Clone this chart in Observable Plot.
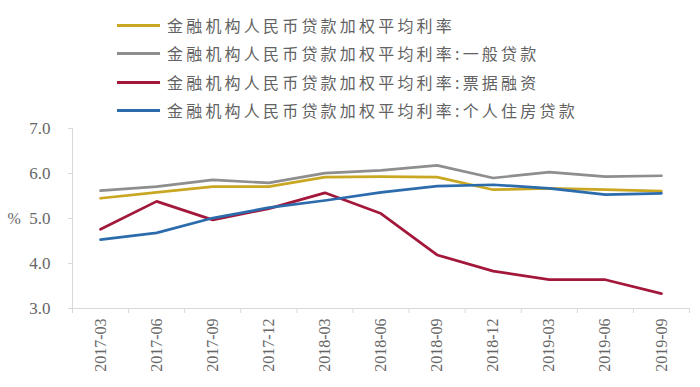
<!DOCTYPE html>
<html><head><meta charset="utf-8">
<script src="https://cdn.jsdelivr.net/npm/d3@7"></script>
<script src="https://cdn.jsdelivr.net/npm/@observablehq/plot@0.6"></script>
<style>
body{margin:0;background:#fff;}
#wrap{position:relative;width:700px;height:387px;overflow:hidden;background:#fff;}
#legend{position:relative;width:700px;height:120px;}
.row{position:absolute;left:117px;height:22px;display:flex;align-items:center;}
.sw{width:43px;height:3px;margin-right:7px;flex:none;}
.lab{font-size:16px;font-family:"Noto Sans CJK SC";color:#626262;letter-spacing:3.2px;white-space:nowrap;line-height:22px;}
#chart svg{display:block;}
</style></head><body>
<div id="wrap"><div id="legend"></div><div id="chart"></div></div>
<script>
const categories = ["2017-03","2017-06","2017-09","2017-12","2018-03","2018-06","2018-09","2018-12","2019-03","2019-06","2019-09"];
const seriesNames = [
  "金融机构人民币贷款加权平均利率",
  "金融机构人民币贷款加权平均利率:一般贷款",
  "金融机构人民币贷款加权平均利率:票据融资",
  "金融机构人民币贷款加权平均利率:个人住房贷款"
];
const colors = ["#c9a722", "#8e8e8e", "#a3173b", "#2c6cad"];
const avgRate      = [5.45, 5.58, 5.71, 5.71, 5.92, 5.93, 5.92, 5.64, 5.67, 5.64, 5.61];
const generalRate  = [5.62, 5.71, 5.86, 5.79, 6.01, 6.07, 6.18, 5.90, 6.03, 5.93, 5.95];
const billRate     = [4.76, 5.38, 4.97, 5.22, 5.57, 5.11, 4.19, 3.83, 3.64, 3.64, 3.33];
const mortgageRate = [4.53, 4.68, 5.01, 5.24, 5.40, 5.58, 5.72, 5.75, 5.67, 5.53, 5.56];
const yTicks = [3, 4, 5, 6, 7];

const seriesValues = [avgRate, generalRate, billRate, mortgageRate];
const rows = [];
seriesValues.forEach((vals, s) => vals.forEach((v, i) => rows.push({i, v, s: seriesNames[s]})));

// legend
const legend = document.getElementById("legend");
const rowTops = [14, 42, 71, 99];
seriesNames.forEach((name, k) => {
  const r = document.createElement("div");
  r.className = "row";
  r.style.top = rowTops[k] + "px";
  r.innerHTML = `<div class="sw" style="background:${colors[k]}"></div><div class="lab">${name}</div>`;
  legend.appendChild(r);
});

const chart = Plot.plot({
  width: 700,
  height: 267,
  marginTop: 8,
  marginBottom: 79,
  marginLeft: 72,
  marginRight: 11,
  style: {background: "#fff", color: "#666"},
  x: {type: "linear", domain: [-0.5, categories.length - 0.5]},
  y: {domain: [3, 7]},
  color: {domain: seriesNames, range: colors},
  marks: [
    Plot.ruleX([-0.5], {stroke: "#d9d9d9", strokeWidth: 1}),
    Plot.ruleY([3], {stroke: "#d9d9d9", strokeWidth: 1}),
    Plot.axisY({ticks: yTicks, tickFormat: d => d.toFixed(1), tickSize: 4, tickPadding: 18,
      stroke: "#d9d9d9", fill: "#666", fontSize: 17, fontFamily: "Liberation Serif", label: null}),
    Plot.axisX({ticks: d3.range(categories.length), tickFormat: i => categories[i], tickSize: 0,
      tickPadding: 10, tickRotate: -90, fill: "#666", fontSize: 16, fontFamily: "Liberation Serif", label: null}),
    Plot.axisX({ticks: d3.range(categories.length + 1).map(i => i - 0.5), tickFormat: () => "",
      tickSize: 5, stroke: "#d9d9d9", label: null}),
    Plot.line(rows, {x: "i", y: "v", z: "s", stroke: "s", strokeWidth: 2.7}),
    Plot.text(["%"], {frameAnchor: "left", dx: -65, textAnchor: "start", fill: "#666",
      fontSize: 16, fontFamily: "Liberation Serif"})
  ]
});
document.getElementById("chart").appendChild(chart);
</script>
</body></html>
